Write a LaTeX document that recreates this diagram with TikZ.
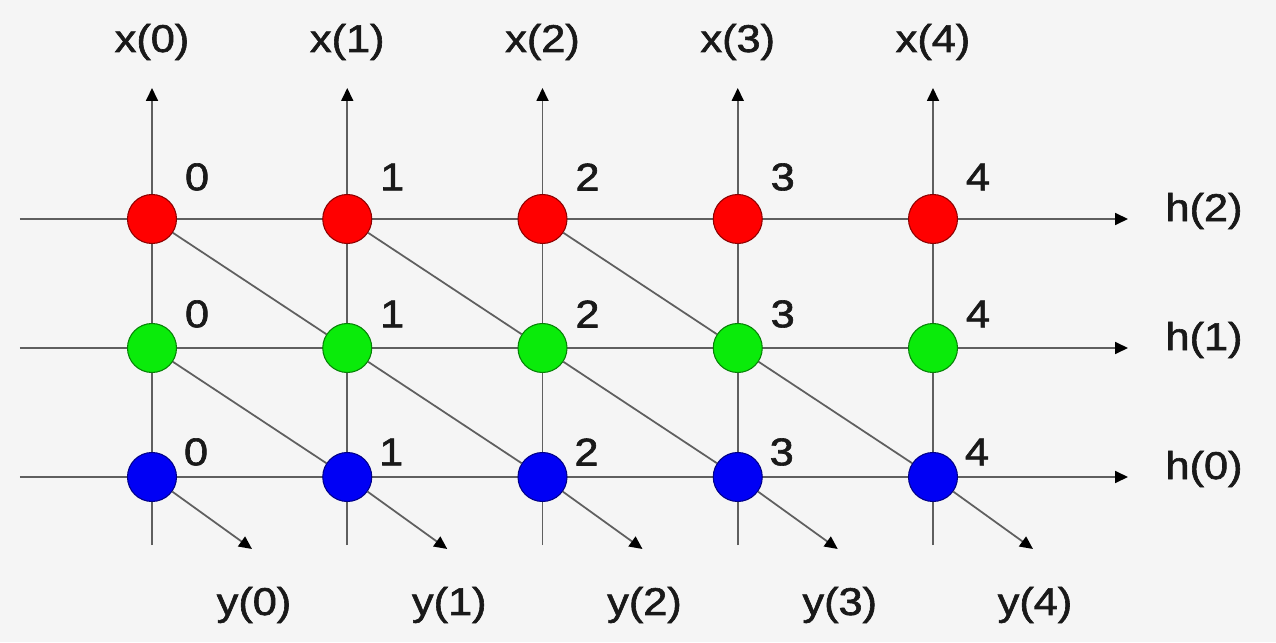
\documentclass[tikz,border=0pt]{standalone}
\usepackage{fontspec}
\setmainfont{Liberation Sans}
\newfontfamily\labelfont[FakeStretch=1.12, FakeBold=1.6]{Liberation Sans}
\usetikzlibrary{arrows.meta}
\definecolor{bggray}{RGB}{245,245,245}
\definecolor{linegray}{RGB}{95,95,95}
\definecolor{cellred}{RGB}{255,0,0}
\definecolor{cellgreen}{RGB}{10,235,10}
\definecolor{cellblue}{RGB}{0,0,245}
\begin{document}
\begin{tikzpicture}[
        cell/.style={circle, draw=#1!55!black, fill=#1, line width=0.6pt, minimum size=9.8mm, inner sep=0pt},
        wire/.style={draw=linegray, line width=1pt},
        arr/.style={wire, -{Triangle[length=2.6mm, width=2.4mm, color=black]}},
        lbl/.style={font=\labelfont\fontsize{22}{26}\selectfont, text=black!90, inner sep=0pt},
        ]
        \fill[bggray] (0,0) rectangle (25.52,12.84);

        % inputs x(i)
        \foreach \i in {0,...,4} {
            \coordinate (bot\i) at (3.04+3.905*\i,1.94);
            \coordinate (top\i) at (3.04+3.905*\i,11.08);
            \draw[arr] (bot\i) -- (top\i);
            \node (x\i) at (3.04+3.905*\i,12.0) [lbl] {x(\i)};
        }

        % hidden states h(l)
        \foreach \l/\y in {2/8.46,1/5.88,0/3.30} {
            \coordinate (left\l) at (0.4,\y);
            \coordinate (right\l) at (22.56,\y);
            \draw[arr] (left\l) -- (right\l);
            \node (h\l) at (24.08,\y+0.16) [lbl] {h(\l)};
        }

        % cells
        \foreach \i in {0,...,4} {
            \node (r\i) at (3.04+3.905*\i,8.46) [cell=cellred] {};
            \node (g\i) at (3.04+3.905*\i,5.88) [cell=cellgreen] {};
            \node (b\i) at (3.04+3.905*\i,3.30) [cell=cellblue] {};
            \node (rn\i) at (3.94+3.905*\i,9.30) [lbl] {\i};
            \node (gn\i) at (3.94+3.905*\i,6.56) [lbl] {\i};
            \node (bn\i) at (3.92+3.905*\i,3.80) [lbl] {\i};
        }

        \foreach \i/\j in {0/1,1/2,2/3} \draw[wire] (r\i) -- (g\j);
        \foreach \i/\j in {0/1,1/2,2/3,3/4} \draw[wire] (g\i) -- (b\j);

        % outputs y(i)
        \foreach \i in {0,...,4} {
            \coordinate (out\i) at (5.04+3.905*\i,1.86);
            \draw[arr] (b\i) -- (out\i);
            \node (y\i) at (5.08+3.905*\i,0.74) [lbl] {y(\i)};
        }
    \end{tikzpicture}
\end{document}
